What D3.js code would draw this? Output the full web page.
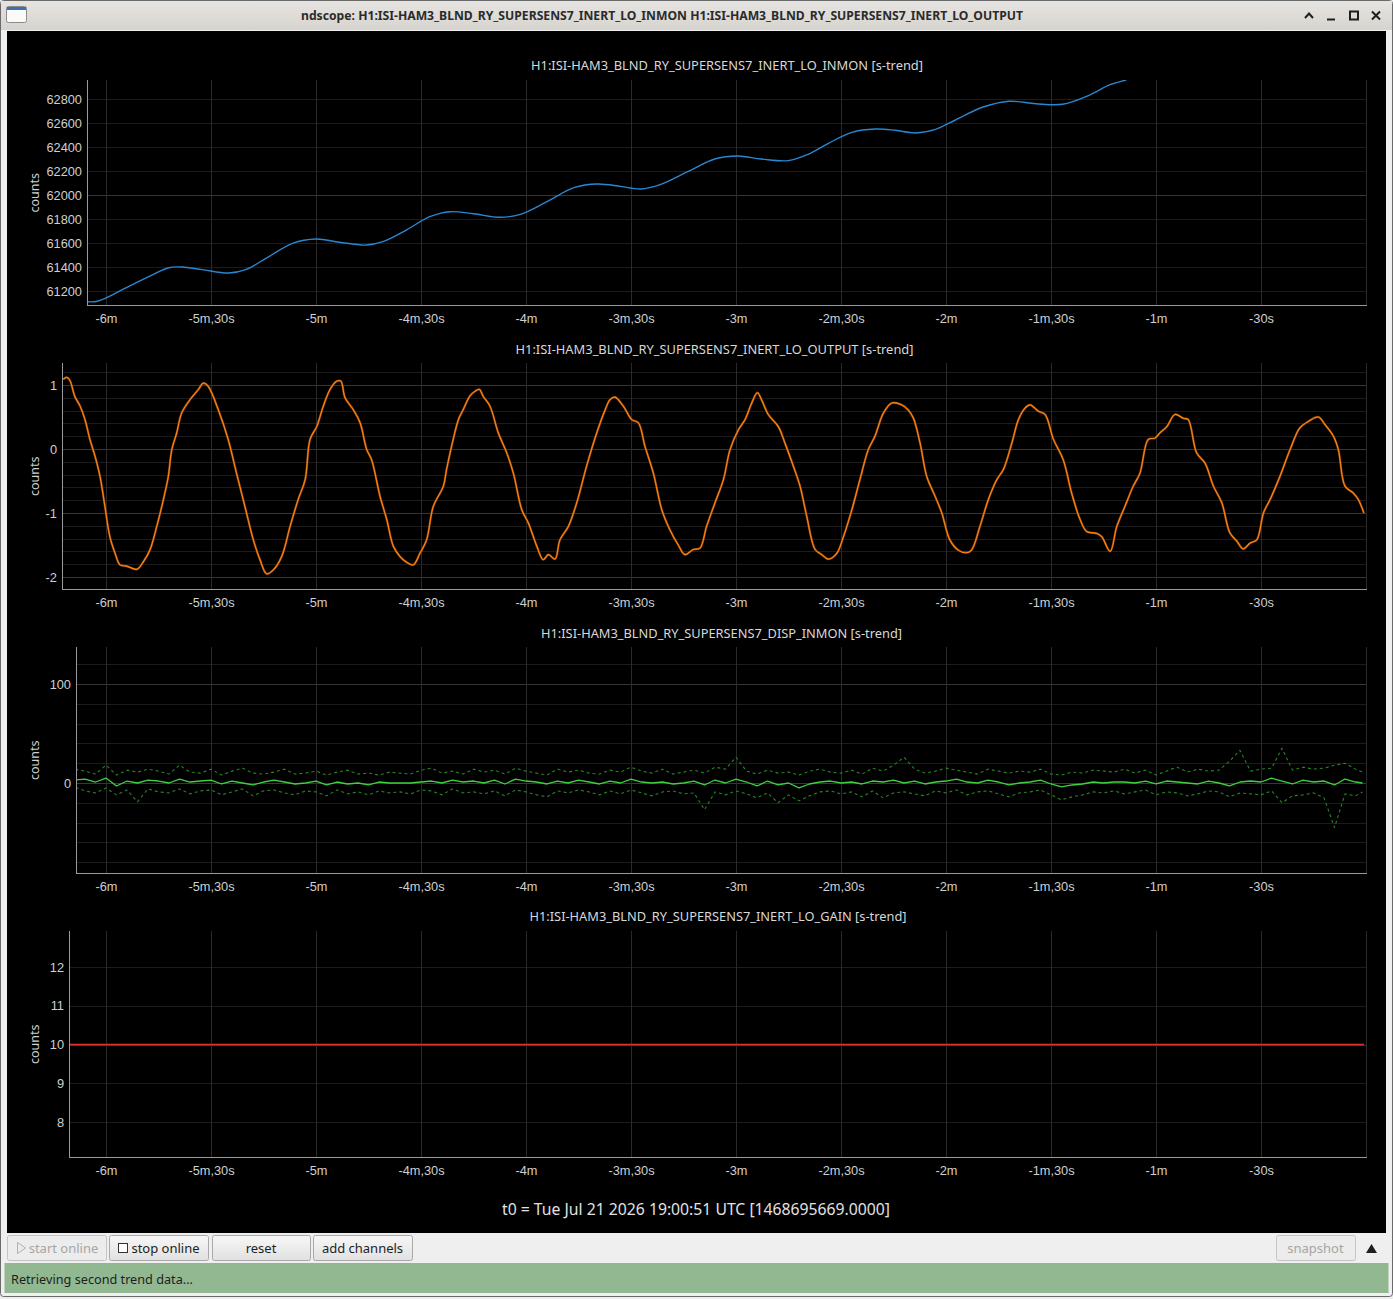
<!DOCTYPE html>
<html>
<head>
<meta charset="utf-8">
<title>ndscope</title>
<script src="https://d3js.org/d3.v7.min.js"></script>
<style>
    html, body { margin: 0; padding: 0; background: #efefef; }
    svg { display: block; font-family: "Noto Sans", "DejaVu Sans", sans-serif; }
    .tick text { fill: #cfcfcf; font-size: 12.8px; }
    .axisLine { stroke: #9a9a9a; stroke-width: 1; }
    .panelTitle { fill: #d8d8d8; font-size: 12.5px; text-anchor: middle; }
    .yLabel { fill: #cfcfcf; font-size: 12.5px; text-anchor: middle; }
    .btnText { font-size: 13px; fill: #1e1e1e; }
    .btnText.off { fill: #a6a6a6; }
</style>
</head>
<body>
<script>
//time ticks (seconds before t0) and their grid
var timeTicks = [-360, -330, -300, -270, -240, -210, -180, -150, -120, -90, -60, -30];
var timeGrid = [-360, -330, -300, -270, -240, -210, -180, -150, -120, -90, -60, -30, 0];

//panel 1: INERT_LO_INMON
var inmonTicks = [61200, 61400, 61600, 61800, 62000, 62200, 62400, 62600, 62800];
var inmonTime = [-366.0, -362.2, -354.5, -346.9, -342.1, -338.3, -332.5, -324.9, -320.1, -314.3,
    -306.7, -300.0, -293.3, -285.6, -280.9, -274.2, -267.5, -261.7, -255.0, -247.4,
    -241.6, -234.0, -226.3, -219.6, -212.9, -207.2, -201.5, -193.8, -186.1, -179.5,
    -172.8, -165.1, -159.4, -153.6, -146.9, -140.2, -134.5, -128.7, -123.0, -117.3,
    -109.6, -102.0, -94.3, -86.7, -79.0, -73.3, -68.5];
var inmonValue = [61111, 61117, 61223, 61333, 61394, 61400, 61378, 61350, 61378, 61472,
    61597, 61633, 61606, 61583, 61611, 61708, 61819, 61861, 61844, 61814,
    61839, 61944, 62061, 62092, 62072, 62050, 62089, 62194, 62300, 62325,
    62300, 62286, 62339, 62431, 62522, 62550, 62539, 62517, 62547, 62625,
    62731, 62781, 62761, 62756, 62833, 62917, 62958];

//panel 2: INERT_LO_OUTPUT
var outputTicks = [-2, -1, 0, 1];
var outputTime = [-372.2, -371.2, -370.3, -368.9, -367.4, -366.0, -364.6, -363.1, -361.7, -360.3,
    -358.9, -357.4, -356.0, -354.1, -351.2, -349.3, -347.4, -345.5, -343.6, -342.2,
    -341.2, -339.8, -338.4, -336.0, -333.6, -332.2, -330.8, -327.9, -325.1, -322.7,
    -320.3, -317.9, -316.0, -314.1, -312.2, -309.8, -307.4, -305.1, -303.1, -301.7,
    -299.8, -297.9, -296.0, -294.1, -292.9, -291.7, -289.3, -287.4, -285.5, -284.1,
    -281.7, -279.8, -277.9, -276.0, -274.1, -272.2, -270.3, -268.4, -266.5, -263.6,
    -262.7, -260.8, -259.3, -257.9, -256.0, -254.6, -253.3, -252.2, -250.3, -247.9,
    -245.5, -243.6, -241.2, -239.3, -236.9, -235.1, -233.6, -231.7, -230.3, -227.9,
    -225.5, -222.7, -219.8, -217.4, -216.0, -214.6, -212.2, -209.8, -207.9, -206.0,
    -203.6, -201.2, -198.9, -196.5, -194.6, -192.2, -190.3, -188.4, -186.0, -183.6,
    -181.7, -179.3, -177.4, -175.5, -173.9, -172.7, -170.8, -167.9, -166.0, -163.6,
    -161.7, -159.8, -157.4, -155.5, -153.6, -151.2, -149.3, -146.9, -144.6, -142.2,
    -140.3, -137.9, -135.5, -132.7, -130.8, -129.3, -127.4, -125.5, -123.1, -121.2,
    -118.9, -116.5, -114.1, -112.7, -110.3, -107.9, -105.5, -103.6, -101.2, -99.3,
    -97.4, -96.0, -93.6, -91.7, -89.3, -86.5, -84.1, -81.7, -79.8, -76.9,
    -75.5, -73.1, -71.2, -68.9, -66.5, -64.6, -62.2, -60.3, -58.9, -56.9,
    -54.6, -52.2, -50.8, -48.4, -46.0, -43.6, -41.2, -38.9, -36.9, -35.1,
    -33.1, -31.2, -29.3, -27.4, -24.6, -21.7, -18.9, -16.5, -13.6, -11.7,
    -9.3, -7.9, -6.0, -3.6, -2.2, -0.6];
var outputValue = [1.09, 1.12, 1.07, 0.82, 0.67, 0.46, 0.15, -0.12, -0.43, -0.90,
    -1.37, -1.63, -1.81, -1.83, -1.88, -1.76, -1.57, -1.21, -0.79, -0.43,
    -0.01, 0.25, 0.56, 0.77, 0.93, 1.03, 0.98, 0.61, 0.15, -0.38,
    -0.90, -1.42, -1.73, -1.95, -1.89, -1.68, -1.21, -0.79, -0.48, 0.15,
    0.35, 0.67, 0.93, 1.06, 1.06, 0.80, 0.61, 0.41, -0.01, -0.17,
    -0.74, -1.10, -1.52, -1.68, -1.77, -1.81, -1.63, -1.42, -0.90, -0.58,
    -0.32, 0.15, 0.46, 0.62, 0.83, 0.90, 0.93, 0.82, 0.67, 0.25,
    -0.06, -0.38, -0.95, -1.16, -1.52, -1.73, -1.65, -1.72, -1.42, -1.21,
    -0.84, -0.27, 0.25, 0.61, 0.77, 0.81, 0.67, 0.46, 0.41, 0.04,
    -0.38, -0.95, -1.26, -1.50, -1.65, -1.57, -1.55, -1.21, -0.84, -0.48,
    -0.01, 0.30, 0.46, 0.72, 0.88, 0.77, 0.54, 0.35, 0.09, -0.27,
    -0.58, -1.05, -1.57, -1.65, -1.72, -1.63, -1.37, -0.95, -0.48, -0.01,
    0.20, 0.56, 0.72, 0.69, 0.61, 0.48, 0.09, -0.43, -0.74, -1.00,
    -1.42, -1.58, -1.62, -1.58, -1.21, -0.79, -0.48, -0.32, 0.09, 0.46,
    0.64, 0.69, 0.59, 0.54, 0.15, -0.17, -0.69, -1.10, -1.29, -1.32,
    -1.37, -1.60, -1.21, -0.90, -0.58, -0.38, 0.15, 0.17, 0.25, 0.35,
    0.54, 0.48, 0.46, -0.06, -0.22, -0.58, -0.84, -1.31, -1.44, -1.56,
    -1.47, -1.42, -1.00, -0.79, -0.43, -0.01, 0.33, 0.43, 0.50, 0.38,
    0.20, -0.01, -0.58, -0.69, -0.79, -1.00];

//panel 3: DISP_INMON (mean with min/max envelope)
var dispTicks = [0, 100];
var dispTime = [-372, -369, -366, -363, -360, -357, -354, -351, -348, -345,
    -342, -339, -336, -333, -330, -327, -324, -321, -318, -315,
    -312, -309, -306, -303, -300, -297, -294, -291, -288, -285,
    -282, -279, -276, -273, -270, -267, -264, -261, -258, -255,
    -252, -249, -246, -243, -240, -237, -234, -231, -228, -225,
    -222, -219, -216, -213, -210, -207, -204, -201, -198, -195,
    -192, -189, -186, -183, -180, -177, -174, -171, -168, -165,
    -162, -159, -156, -153, -150, -147, -144, -141, -138, -135,
    -132, -129, -126, -123, -120, -117, -114, -111, -108, -105,
    -102, -99, -96, -93, -90, -87, -84, -81, -78, -75,
    -72, -69, -66, -63, -60, -57, -54, -51, -48, -45,
    -42, -39, -36, -33, -30, -27, -24, -21, -18, -15,
    -12, -9, -6, -3, -1];
var dispMean = [2, 3, 4, 1, 5, -3, 2, 0, 3, 2,
    0, 4, 1, 2, 3, -1, 2, 0, -2, 1,
    3, 1, -1, 0, 2, -2, 1, -1, 0, -2,
    1, 0, 0, 0, 1, 2, 0, 3, 1, 2,
    0, 3, -1, 4, 2, 1, -1, 2, 0, 3,
    1, -1, 2, 0, 4, 1, 0, 1, -1, 0,
    2, -2, 3, 0, 4, 1, -3, 2, -2, 0,
    -5, -1, 1, 2, 0, 1, -1, 2, 1, 3,
    0, 2, -1, 1, 2, 4, 1, 0, 3, 1,
    -2, 0, 1, 3, -1, -4, -2, -1, 1, 0,
    1, 1, 0, 2, -1, 2, 1, 0, -1, 2,
    0, -3, 1, 2, 1, 5, 2, -1, 3, 1,
    2, -2, 4, 1, 0];
var dispMax = [10, 14, 12, 9, 18, 8, 13, 11, 14, 12,
    9, 18, 11, 10, 14, 8, 12, 15, 10, 9,
    11, 14, 9, 10, 12, 8, 11, 13, 9, 10,
    8, 11, 10, 9, 13, 15, 10, 12, 9, 14,
    11, 13, 9, 15, 12, 10, 8, 14, 11, 13,
    10, 9, 13, 11, 16, 12, 10, 14, 9, 11,
    13, 10, 16, 14, 26, 12, 9, 13, 10, 11,
    8, 12, 14, 11, 10, 13, 9, 15, 12, 18,
    26, 14, 10, 12, 15, 13, 11, 9, 14, 12,
    10, 12, 11, 14, 9, 8, 11, 10, 13, 12,
    11, 14, 10, 13, 8, 12, 16, 11, 14, 12,
    13, 22, 33, 12, 14, 15, 35, 13, 16, 14,
    15, 18, 20, 14, 11];
var dispMin = [-6, -4, -8, -10, -5, -12, -7, -19, -6, -9,
    -10, -6, -11, -8, -7, -12, -9, -6, -13, -8,
    -7, -10, -12, -8, -9, -13, -7, -11, -9, -12,
    -8, -10, -9, -11, -7, -8, -12, -6, -10, -9,
    -11, -8, -13, -7, -9, -12, -14, -8, -10, -7,
    -9, -12, -8, -11, -7, -10, -13, -9, -8, -11,
    -10, -27, -9, -12, -8, -11, -15, -10, -20, -12,
    -18, -13, -9, -8, -11, -9, -14, -8, -15, -10,
    -9, -11, -13, -8, -10, -7, -12, -9, -8, -11,
    -14, -10, -9, -7, -12, -17, -14, -12, -9, -10,
    -8, -11, -9, -7, -12, -9, -10, -13, -11, -8,
    -9, -14, -10, -11, -12, -8, -20, -13, -12, -10,
    -15, -45, -11, -13, -9];

//panel 4: INERT_LO_GAIN
var gainTicks = [8, 9, 10, 11, 12];
var gainTime = [-372, -0.6];
var gainValue = [10, 10];

var windowTitle = "ndscope: H1:ISI-HAM3_BLND_RY_SUPERSENS7_INERT_LO_INMON H1:ISI-HAM3_BLND_RY_SUPERSENS7_INERT_LO_OUTPUT";
var t0Label = "t0 = Tue Jul 21 2026 19:00:51 UTC [1468695669.0000]";

(function(){

    var width = 1393,
        height = 1299,
        plotRight = 1367;

    var svg = d3.select("body")
        .append("svg")
        .attr("width", width)
        .attr("height", height);

    var defs = svg.append("defs");

    //zip a time and value array into points
    function zip(t, v){
        return t.map(function(d, i){ return [d, v[i]]; });
    };

    //shared time scale: all panels are linked in x
    var x = d3.scaleLinear()
        .domain([-360, 0])
        .range([106, 1366]);

    //format seconds as -5m,30s
    function fmtTime(t){
        var a = Math.abs(t), m = Math.floor(a / 60), s = a % 60;
        var out = "-";
        if (m) out += m + "m";
        if (m && s) out += ",";
        if (s) out += s + "s";
        return out;
    };

    setFrame();

    var panels = [
        {title: "H1:ISI-HAM3_BLND_RY_SUPERSENS7_INERT_LO_INMON [s-trend]", titleY: 69.5, titleW: 392,
            left: 87, top: 80, bottom: 305.5, yRef: [61200, 62800], yPix: [291, 99],
            ticks: inmonTicks, minor: 200, major: 1000,
            series: [{data: zip(inmonTime, inmonValue), color: "#2a86cf", width: 1.4, curve: d3.curveCatmullRom}]},
        {title: "H1:ISI-HAM3_BLND_RY_SUPERSENS7_INERT_LO_OUTPUT [s-trend]", titleY: 353.5, titleW: 398,
            left: 62, top: 363, bottom: 589.5, yRef: [-2, 1], yPix: [577, 385],
            ticks: outputTicks, minor: 0.2, major: 1,
            series: [{data: zip(outputTime, outputValue), color: "#8a420a", width: 2.2, curve: d3.curveCatmullRom},
                     {data: zip(outputTime, outputValue), color: "#ff8412", width: 1.1, curve: d3.curveCatmullRom}]},
        {title: "H1:ISI-HAM3_BLND_RY_SUPERSENS7_DISP_INMON [s-trend]", titleY: 637.5, titleW: 361,
            left: 76, top: 647, bottom: 873.5, yRef: [0, 100], yPix: [783, 684],
            ticks: dispTicks, minor: 20, major: 100,
            series: [{data: zip(dispTime, dispMax), color: "#2b802b", width: 1.1, dash: "3,3"},
                     {data: zip(dispTime, dispMin), color: "#2b802b", width: 1.1, dash: "3,3"},
                     {data: zip(dispTime, dispMean), color: "#3fd03f", width: 1.3}]},
        {title: "H1:ISI-HAM3_BLND_RY_SUPERSENS7_INERT_LO_GAIN [s-trend]", titleY: 920.5, titleW: 377,
            left: 69, top: 931, bottom: 1157.5, yRef: [8, 12], yPix: [1122, 967],
            ticks: gainTicks, minor: 1, major: 5,
            series: [{data: zip(gainTime, gainValue), color: "#e0312f", width: 1.3}]}
    ];

    panels.forEach(setPanel);

    //draw one stacked scope panel
    function setPanel(p, i){

        var y = d3.scaleLinear()
            .domain(p.yRef)
            .range(p.yPix);

        var g = svg.append("g").attr("class", "panel");

        defs.append("clipPath")
            .attr("id", "clip" + i)
            .append("rect")
            .attr("x", p.left)
            .attr("y", p.top)
            .attr("width", plotRight - p.left)
            .attr("height", p.bottom - p.top);

        //horizontal grid, minor and major
        var lo = y.invert(p.bottom), hi = y.invert(p.top);
        var hLines = d3.range(Math.ceil(lo / p.minor), Math.floor(hi / p.minor) + 1)
            .map(function(k){ return k * p.minor; });
        g.selectAll(".hGrid")
            .data(hLines)
            .enter()
            .append("line")
            .attr("class", "hGrid")
            .attr("x1", p.left)
            .attr("x2", plotRight)
            .attr("y1", function(d){ return Math.round(y(d)) + 0.5; })
            .attr("y2", function(d){ return Math.round(y(d)) + 0.5; })
            .style("stroke", function(d){
                var r = d / p.major;
                return Math.abs(r - Math.round(r)) < 1e-6 ? "#363636" : "#1c1c1c";
            });

        //vertical grid
        g.selectAll(".vGrid")
            .data(timeGrid)
            .enter()
            .append("line")
            .attr("class", "vGrid")
            .attr("x1", function(d){ return Math.round(x(d)) + 0.5; })
            .attr("x2", function(d){ return Math.round(x(d)) + 0.5; })
            .attr("y1", p.top)
            .attr("y2", p.bottom)
            .style("stroke", "#2a2a2a");

        //traces
        var traces = g.append("g").attr("clip-path", "url(#clip" + i + ")");
        p.series.forEach(function(s){
            var line = d3.line()
                .x(function(d){ return x(d[0]); })
                .y(function(d){ return y(d[1]); })
                .curve(s.curve || d3.curveLinear);
            traces.append("path")
                .datum(s.data)
                .attr("d", line)
                .style("fill", "none")
                .style("stroke", s.color)
                .style("stroke-width", s.width)
                .style("stroke-dasharray", s.dash || null)
                .style("stroke-linejoin", "round");
        });

        //left axis
        var yAxis = d3.axisLeft(y)
            .tickValues(p.ticks)
            .tickSize(0)
            .tickPadding(5)
            .tickFormat(function(d){ return String(d); });
        var ya = g.append("g")
            .attr("transform", "translate(" + p.left + ",0)")
            .call(yAxis);
        ya.select(".domain").remove();

        //bottom axis
        var xAxis = d3.axisBottom(x)
            .tickValues(timeTicks)
            .tickSize(0)
            .tickPadding(8)
            .tickFormat(fmtTime);
        var xa = g.append("g")
            .attr("transform", "translate(0," + p.bottom + ")")
            .call(xAxis);
        xa.select(".domain").remove();

        //axis lines
        g.append("line")
            .attr("class", "axisLine")
            .attr("x1", p.left + 0.5).attr("x2", p.left + 0.5)
            .attr("y1", p.top).attr("y2", p.bottom);
        g.append("line")
            .attr("class", "axisLine")
            .attr("x1", p.left).attr("x2", plotRight)
            .attr("y1", p.bottom).attr("y2", p.bottom);

        //title
        g.append("text")
            .attr("class", "panelTitle")
            .attr("x", (p.left + plotRight) / 2)
            .attr("y", p.titleY)
            .attr("textLength", p.titleW)
            .attr("lengthAdjust", "spacingAndGlyphs")
            .text(p.title);

        //y label
        g.append("text")
            .attr("class", "yLabel")
            .attr("transform", "translate(39," + ((p.top + p.bottom) / 2) + ") rotate(-90)")
            .text("counts");
    };

    //window chrome, black canvas, buttons and status bar
    function setFrame(){

        var grad = defs.append("linearGradient")
            .attr("id", "titleGrad")
            .attr("x1", 0).attr("x2", 0).attr("y1", 0).attr("y2", 1);
        grad.append("stop").attr("offset", "0%").attr("stop-color", "#e6e4e1");
        grad.append("stop").attr("offset", "100%").attr("stop-color", "#d7d4cf");

        var bgrad = defs.append("linearGradient")
            .attr("id", "btnGrad")
            .attr("x1", 0).attr("x2", 0).attr("y1", 0).attr("y2", 1);
        bgrad.append("stop").attr("offset", "0%").attr("stop-color", "#f7f7f7");
        bgrad.append("stop").attr("offset", "100%").attr("stop-color", "#e1e1e1");

        //outer window
        svg.append("rect")
            .attr("x", 0.5).attr("y", 0.5)
            .attr("width", width - 1).attr("height", height - 3)
            .attr("rx", 3)
            .style("fill", "#efefef")
            .style("stroke", "#6a6a6a");

        //title bar
        svg.append("rect")
            .attr("x", 1).attr("y", 1)
            .attr("width", width - 2).attr("height", 29)
            .style("fill", "url(#titleGrad)");

        //window icon
        svg.append("rect")
            .attr("x", 6.5).attr("y", 6.5).attr("width", 20).attr("height", 16).attr("rx", 2)
            .style("fill", "#fafafa").style("stroke", "#8a8a8a");
        svg.append("rect")
            .attr("x", 7).attr("y", 7).attr("width", 19).attr("height", 3)
            .style("fill", "#3c6fb3");

        svg.append("text")
            .attr("x", 662).attr("y", 20)
            .attr("text-anchor", "middle")
            .attr("textLength", 722)
            .attr("lengthAdjust", "spacingAndGlyphs")
            .style("font-size", "13px")
            .style("font-weight", "bold")
            .style("fill", "#2b2b2b")
            .text(windowTitle);

        //title bar buttons
        var wb = svg.append("g")
            .style("fill", "none")
            .style("stroke", "#1e1e1e")
            .style("stroke-width", 2);
        wb.append("path").attr("d", "M1305,18 L1309,13.5 L1313,18");
        wb.append("path").attr("d", "M1327,19.5 L1335,19.5");
        wb.append("rect").attr("x", 1350).attr("y", 11.5).attr("width", 8).attr("height", 8);
        wb.append("path").attr("d", "M1372,11.5 L1380,19.5 M1380,11.5 L1372,19.5");

        //black scope canvas
        svg.append("rect")
            .attr("x", 7).attr("y", 31)
            .attr("width", 1379).attr("height", 1202)
            .style("fill", "#000");

        svg.append("text")
            .attr("x", 696).attr("y", 1215)
            .attr("text-anchor", "middle")
            .attr("textLength", 388)
            .attr("lengthAdjust", "spacingAndGlyphs")
            .style("font-size", "15.5px")
            .style("fill", "#e2e2e2")
            .text(t0Label);

        //buttons
        var buttons = [
            {label: "start online", x: 7, w: 99, off: true, icon: "play"},
            {label: "stop online", x: 109, w: 99, off: false, icon: "stop"},
            {label: "reset", x: 212, w: 98, off: false},
            {label: "add channels", x: 313, w: 99, off: false},
            {label: "snapshot", x: 1276, w: 79, off: true}
        ];
        buttons.forEach(function(b){
            var bg = svg.append("g");
            bg.append("rect")
                .attr("x", b.x + 0.5).attr("y", 1235.5)
                .attr("width", b.w).attr("height", 25)
                .attr("rx", 2)
                .style("fill", b.off ? "#ececec" : "url(#btnGrad)")
                .style("stroke", b.off ? "#c4c4c4" : "#a9a9a9");
            var tx = b.x + b.w / 2 + (b.icon ? 7 : 0);
            bg.append("text")
                .attr("class", "btnText" + (b.off ? " off" : ""))
                .attr("x", tx).attr("y", 1253)
                .attr("text-anchor", "middle")
                .text(b.label);
            if (b.icon == "play") {
                bg.append("path")
                    .attr("d", "M17.5,1242.5 L25.5,1248 L17.5,1253.5 Z")
                    .style("fill", "none").style("stroke", "#b0b0b0");
            } else if (b.icon == "stop") {
                bg.append("rect")
                    .attr("x", 118.5).attr("y", 1243.5).attr("width", 9).attr("height", 9)
                    .style("fill", "#fff").style("stroke", "#333");
            }
        });

        //collapse arrow
        svg.append("path")
            .attr("d", "M1366,1253 L1371.5,1244 L1377,1253 Z")
            .style("fill", "#1e1e1e");

        //status bar
        svg.append("rect")
            .attr("x", 4.5).attr("y", 1263)
            .attr("width", 1384).attr("height", 30)
            .style("fill", "#92b892");
        svg.append("text")
            .attr("x", 11).attr("y", 1284)
            .attr("textLength", 182)
            .attr("lengthAdjust", "spacingAndGlyphs")
            .style("font-size", "13px")
            .style("fill", "#1e1e1e")
            .text("Retrieving second trend data...");
    };
})();
</script>
</body>
</html>
